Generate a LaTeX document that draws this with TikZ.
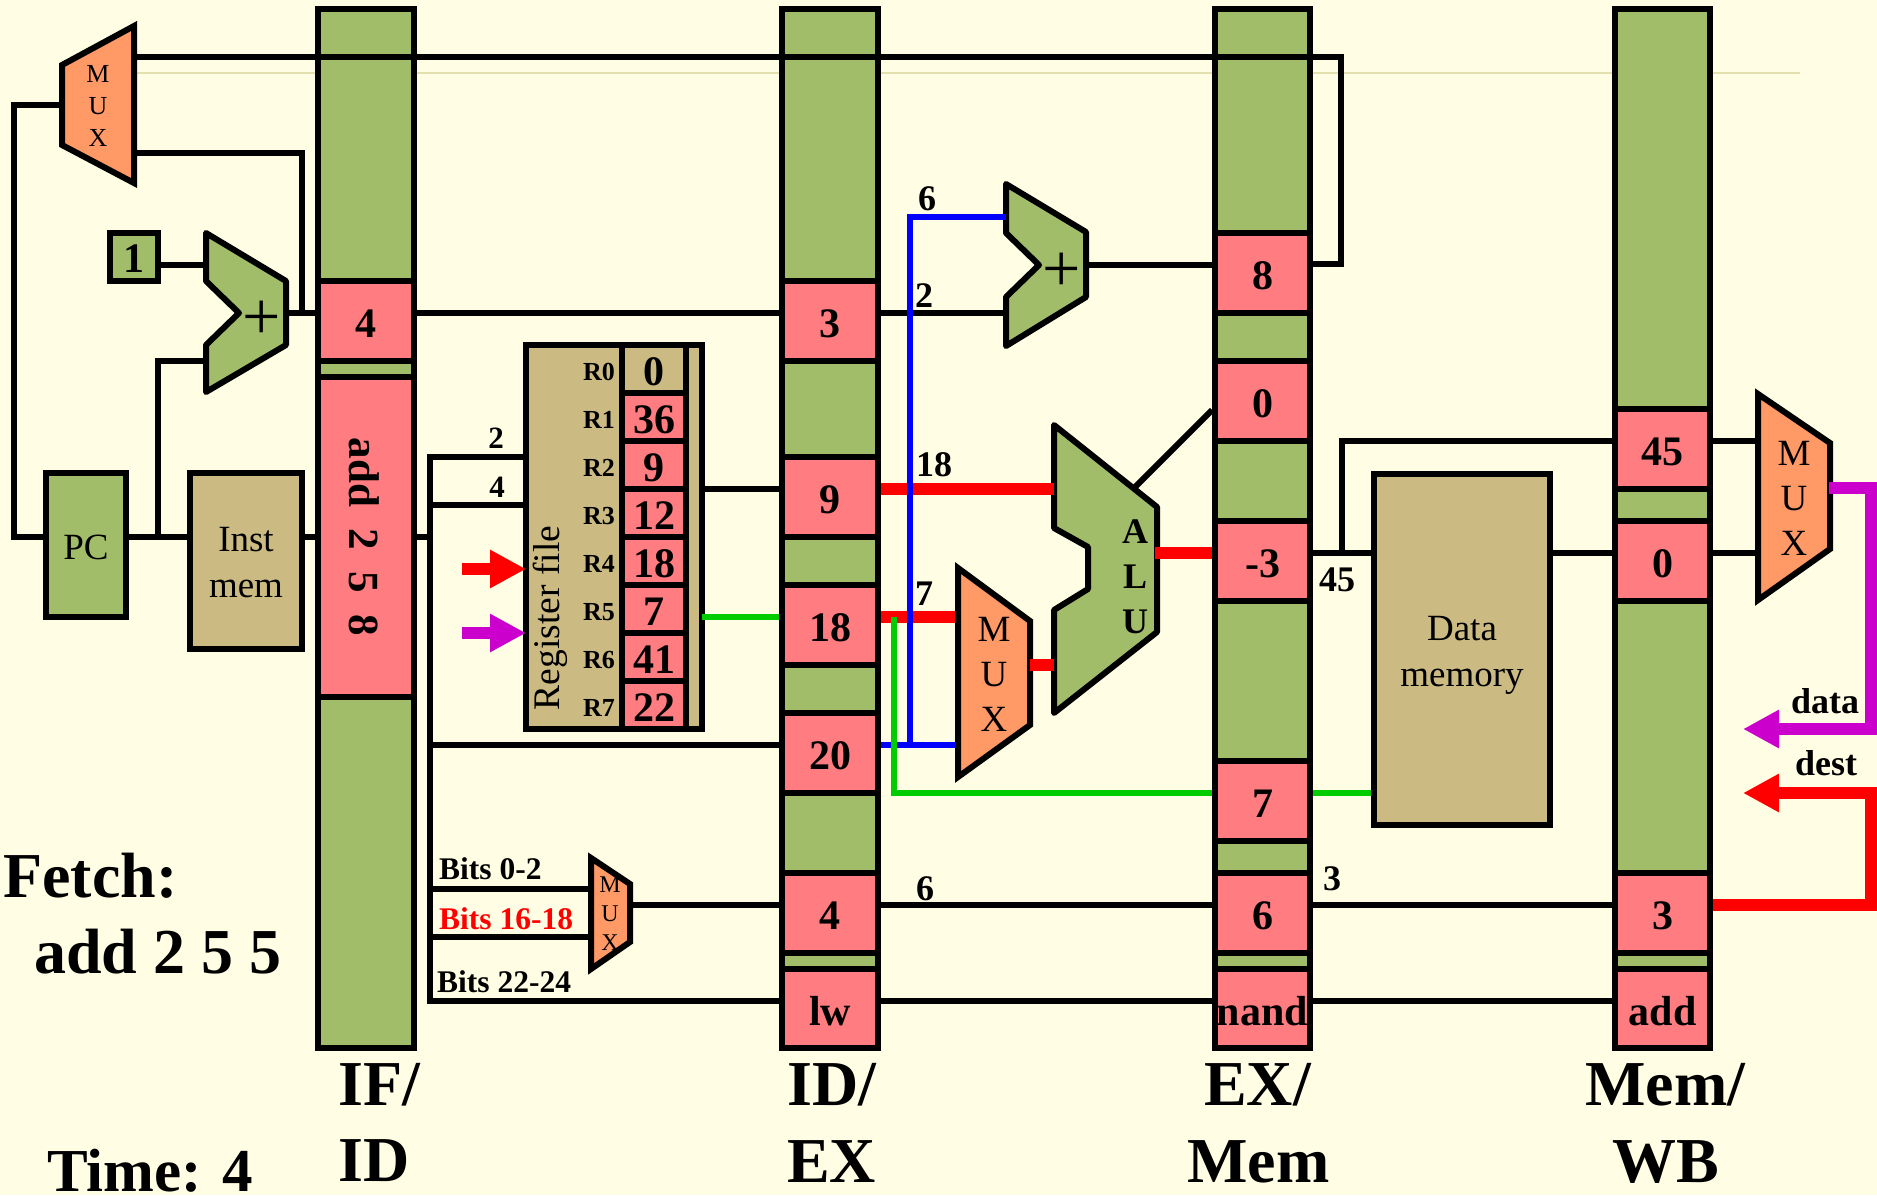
\documentclass[tikz,border=0pt]{standalone}
\usepackage{fontspec}
\setmainfont{Liberation Serif}
\usetikzlibrary{arrows.meta}

\begin{document}
\begin{tikzpicture}
    [x=1pt, y=-1pt,
    inner sep=0pt,
    wire/.style={line width=6pt},
    fatwire/.style={line width=12pt,color=#1},
    fatarrow/.style={line width=12pt,color=#1,-{Triangle[length=36pt,width=36pt]}},
    slimwire/.style={line width=5.5pt,color=#1},
    regbody/.style={draw,line width=6pt,fill=regreen,minimum width=#1,minimum height=1039pt},
    cell/.style={draw,line width=6pt,fill=cellpink,text height=33pt,text depth=0pt,font=\fontsize{42}{50}\selectfont\bfseries},
    box/.style={draw,line width=6pt,fill=#1},
    boxtxt/.style={align=center,font=\fontsize{37}{46}\selectfont},
    muxbody/.style={draw,line width=6pt,fill=muxorange},
    addbody/.style={draw,line width=6pt,fill=regreen,line join=round},
    muxtxt/.style={align=center,font=\fontsize{37}{45}\selectfont},
    wirelabel/.style={font=\fontsize{36}{40}\selectfont\bfseries},
    bitlabel/.style={anchor=west,font=\fontsize{31.5}{36}\selectfont\bfseries},
    title/.style={anchor=base west,font=\fontsize{64}{70}\selectfont\bfseries}]

    % Colors
    \definecolor{paper}{HTML}{FFFDE3};
    \definecolor{faint}{HTML}{E3DFAE};
    \definecolor{regreen}{HTML}{A2BD6A};
    \definecolor{cellpink}{HTML}{FF7C80};
    \definecolor{muxorange}{HTML}{FF9966};
    \definecolor{filetan}{HTML}{CBBB82};
    \definecolor{purplewire}{HTML}{CC00CC};
    \definecolor{greenwire}{HTML}{00CC00};

    % Page
    \path[use as bounding box,fill=paper] (0,0) rectangle (1877,1195);
    \draw[faint,line width=2pt] (134,73) -- (1800,73);

    % Wire heights
    \foreach \nm/\y in {rowtop/57, rowfbk/153, rowone/265, rowpc/313, rowrega/457, rowrds/489, rowregb/505,
        rowfetch/537, rowres/553, rowsel/617, rowoff/745, rowdst/793, rowbita/889, rowdest/905, rowbitb/937,
        rowop/1001, rowmem/441, rowzero/410, rowsum/264}
        \coordinate (\nm) at (0,\y);

    % Pipeline registers
    \node[regbody=96pt] (ifid) at (366,528.5) {};
    \node[regbody=96pt] (idex) at (830,528.5) {};
    \node[regbody=95pt] (exmem) at (1262.5,528.5) {};
    \node[regbody=95pt] (memwb) at (1662.5,528.5) {};

    \foreach \nm/\yc/\val in {idexpc/321/3, idexa/497/9, idexb/625/18, idexoff/753/20, idexdst/913/4}
        \node[cell,minimum width=96pt,minimum height=80pt] (\nm) at (830,\yc) {\val};
    \foreach \nm/\yc/\val in {exmemsum/272.5/8, exmemzero/401/0, exmemres/561/-3, exmemdata/801/7, exmemdst/913/6}
        \node[cell,minimum width=95pt,minimum height=80pt] (\nm) at (1262.5,\yc) {\val};
    \foreach \nm/\yc/\val in {memwbres/449/45, memwbdata/561/0, memwbdst/913/3}
        \node[cell,minimum width=95pt,minimum height=80pt] (\nm) at (1662.5,\yc) {\val};

    \node[cell,minimum width=96pt,minimum height=80pt] (ifidpc) at (366,321) {4};
    \node[cell,minimum width=96pt,minimum height=320pt] (ifidinst) at (366,537) {};
    \node[rotate=-90,font=\fontsize{43}{50}\selectfont\bfseries] (ifidtxt) at (364,537) {add\ \ 2\ \ 5\ \ 8};
    \node[cell,minimum width=96pt,minimum height=79pt] (idexop) at (830,1008.5) {lw};
    \node[cell,minimum width=95pt,minimum height=79pt] (exmemop) at (1262.5,1008.5) {nand};
    \node[cell,minimum width=95pt,minimum height=79pt] (memwbop) at (1662.5,1008.5) {add};

    % Boxes
    \node[box=regreen,minimum width=80pt,minimum height=144pt] (pc) at (86,545) {};
    \node[boxtxt] (pctxt) at (86,547) {PC};
    \node[box=filetan,minimum width=112pt,minimum height=176pt] (instmem) at (246,561) {};
    \node[boxtxt] (insttxt) at (246,563) {Inst\\mem};
    \node[box=filetan,minimum width=176pt,minimum height=351pt] (datamem) at (1462,649.5) {};
    \node[boxtxt] (datatxt) at (1462,655) {Data\\memory};
    \node[draw,line width=6pt,fill=regreen,minimum width=48pt,minimum height=48pt,text height=31pt,text depth=0pt,
        font=\fontsize{42}{50}\selectfont\bfseries] (one) at (134,257) {1};

    % Register file
    \node[box=filetan,minimum width=176pt,minimum height=384pt] (rfile) at (614,537) {};
    \node[cell,fill=filetan,minimum width=64pt,minimum height=48pt] (rval0) at (654,369) {0};
    \node[font=\fontsize{26}{30}\selectfont\bfseries] (rlab0) at (599,372) {R0};
    \foreach \i/\val in {1/36, 2/9, 3/12, 4/18, 5/7, 6/41, 7/22}{
        \node[cell,minimum width=64pt,minimum height=48pt] (rval\i) at (654,{369+48*\i}) {\val};
        \node[font=\fontsize{26}{30}\selectfont\bfseries] (rlab\i) at (599,{372+48*\i}) {R\i};
    }
    \node[rotate=90,font=\fontsize{37.5}{40}\selectfont] (rtxt) at (550,618) {Register file};

    % Muxes
    \draw[muxbody] (62,65) -- (134,26) -- (134,183) -- (62,145) -- cycle;
    \node[muxtxt,font=\fontsize{26}{32}\selectfont] (fbmux) at (98,106) {M\\U\\X};
    \draw[muxbody] (958,568) -- (1030,621) -- (1030,725) -- (958,777) -- cycle;
    \node[muxtxt] (exmux) at (994,674) {M\\U\\X};
    \draw[muxbody] (1758,394) -- (1830,443) -- (1830,549) -- (1758,600) -- cycle;
    \node[muxtxt] (wbmux) at (1794,498.5) {M\\U\\X};
    \draw[muxbody] (591,858) -- (630,884) -- (630,942) -- (591,969) -- cycle;
    \node[muxtxt,font=\fontsize{24}{29}\selectfont] (dstmux) at (610,914) {M\\U\\X};

    % Adders and ALU
    \draw[addbody] (206,233) -- (286,281) -- (286,345) -- (206,392) -- (206,345) -- (239,313) -- (206,281) -- cycle;
    \node[font=\fontsize{68}{70}\selectfont] (pcplus) at (262,320) {+};
    \draw[addbody] (1006,184) -- (1086,232) -- (1086,297) -- (1006,346) -- (1006,297) -- (1039,265) -- (1006,233) -- cycle;
    \node[font=\fontsize{68}{70}\selectfont] (brplus) at (1062,272) {+};
    \draw[addbody] (1054,425) -- (1157,507) -- (1157,632) -- (1054,713) -- (1054,610) -- (1088,589) -- (1088,547) -- (1054,528) -- cycle;
    \node[muxtxt,font=\fontsize{36}{45}\selectfont\bfseries] (alu) at (1135,577) {A\\L\\U};

    % Wire ends
    \coordinate (fbout) at (134,57);
    \coordinate (fbin) at (134,153);
    \coordinate (fbsel) at (62,105);
    \coordinate (fbleft) at (14,105);
    \coordinate (fbright) at (1341,57);
    \coordinate (fbturn) at (302,153);
    \coordinate (pcjoin) at (302,313);
    \coordinate (pctap) at (158,537);
    \coordinate (pcup) at (158,361);
    \coordinate (pcadd) at (206,361);
    \coordinate (oneadd) at (206,265);
    \coordinate (pcout) at (289,313);
    \coordinate (bus) at (430,457);
    \coordinate (busend) at (430,1001);
    \coordinate (memtap) at (1342,553);
    \coordinate (aluouta) at (1134,488);

    % Black wires
    \draw[wire] (fbout) -- (fbright) -- (fbright |- rowsum) -- (exmemsum.east |- rowsum);
    \draw[wire] (fbin) -- (fbturn) -- (pcjoin);
    \draw[wire] (pcout) -- (ifidpc.west |- rowpc);
    \draw[wire] (fbsel) -- (fbleft) -- (fbleft |- rowfetch) -- (pc.west |- rowfetch);
    \draw[wire] (pc.east |- rowfetch) -- (instmem.west |- rowfetch);
    \draw[wire] (pctap) -- (pcup) -- (pcadd);
    \draw[wire] (one.east |- rowone) -- (oneadd);
    \draw[wire] (instmem.east |- rowfetch) -- (ifidinst.west |- rowfetch);
    \draw[wire] (ifidpc.east |- rowpc) -- (idexpc.west |- rowpc);
    \draw[wire] (idexpc.east |- rowpc) -- (1006,313);
    \draw[wire] (1086,265) -- (exmemsum.west |- rowone);
    \draw[wire] (ifidinst.east |- rowfetch) -- (bus |- rowfetch);
    \draw[wire] (rfile.west |- rowrega) -- (bus) -- (busend) -- (idexop.west |- rowop);
    \draw[wire] (bus |- rowregb) -- (rfile.west |- rowregb);
    \draw[wire] (bus |- rowoff) -- (idexoff.west |- rowoff);
    \draw[wire] (bus |- rowbita) -- (591,889);
    \draw[wire] (bus |- rowbitb) -- (591,937);
    \draw[wire] (630,905) -- (idexdst.west |- rowdest);
    \draw[wire] (rfile.east |- rowrds) -- (idexa.west |- rowrds);
    \draw[wire] (idexdst.east |- rowdest) -- (exmemdst.west |- rowdest);
    \draw[wire] (exmemdst.east |- rowdest) -- (memwbdst.west |- rowdest);
    \draw[wire] (idexop.east |- rowop) -- (exmemop.west |- rowop);
    \draw[wire] (exmemop.east |- rowop) -- (memwbop.west |- rowop);
    \draw[wire] (aluouta) -- (exmemzero.west |- rowzero);
    \draw[wire] (exmemres.east |- rowres) -- (datamem.west |- rowres);
    \draw[wire] (memtap) -- (memtap |- rowmem) -- (memwbres.west |- rowmem);
    \draw[wire] (datamem.east |- rowres) -- (memwbdata.west |- rowres);
    \draw[wire] (memwbres.east |- rowmem) -- (1758,441);
    \draw[wire] (memwbdata.east |- rowres) -- (1758,553);

    % Red wires
    \draw[fatwire=red] (idexa.east |- rowrds) -- (1054,489);
    \draw[fatwire=red] (idexb.east |- rowsel) -- (955,617);
    \draw[fatwire=red] (1030,665) -- (1054,665);
    \draw[fatwire=red] (1155,553) -- (exmemres.west |- rowres);

    % Blue wires
    \draw[slimwire=blue] (idexoff.east |- rowoff) -- (956,745);
    \draw[slimwire=blue] (910,745) -- (910,217) -- (1006,217);

    % Green wires
    \draw[slimwire=greenwire] (702,617) -- (idexb.west |- rowsel);
    \draw[slimwire=greenwire] (894,617) -- (894,793) -- (exmemdata.west |- rowdst);
    \draw[slimwire=greenwire] (exmemdata.east |- rowdst) -- (datamem.west |- rowdst);

    % Write back
    \coordinate (rfwrite) at (526,569);
    \coordinate (rfdest) at (526,633);
    \draw[fatarrow=red] (462,569) -- (rfwrite);
    \draw[fatarrow=purplewire] (462,633) -- (rfdest);
    \draw[fatarrow=purplewire] (1829,488) -- (1871,488) -- (1871,729) -- (1743,729);
    \draw[fatarrow=red] (memwbdst.east |- rowdest) -- (1871,905) -- (1871,793) -- (1743,793);

    % Labels on wires
    \foreach \nm/\px/\py/\val in {lbsix/927/199/6, lbtwo/924/296/2, lbrs/934/465/18, lbrt/924/594/7, lbdst/925/889/6,
        lbres/1337/580/45, lbdest/1332/879/3, lbdata/1825/701/data, lbwb/1826/763/dest}
        \node[wirelabel] (\nm) at (\px,\py) {\val};
    \node[wirelabel,font=\fontsize{31}{36}\selectfont\bfseries] (lbrega) at (496,438) {2};
    \node[wirelabel,font=\fontsize{31}{36}\selectfont\bfseries] (lbregb) at (497,487) {4};
    \node[bitlabel] (bita) at (439,869) {Bits 0-2};
    \node[bitlabel,red] (bitb) at (439,919) {Bits 16-18};
    \node[bitlabel] (bitc) at (437,982) {Bits 22-24};

    % Titles
    \node[title] (fetch) at (3,897) {Fetch:};
    \node[title] (instr) at (34,973) {add 2 5 5};
    \node[title,font=\fontsize{61}{66}\selectfont\bfseries] (time) at (47,1191) {Time: 4};
    \node[title] (ifa) at (338,1105) {IF/};
    \node[title] (ifb) at (338,1181) {ID};
    \node[title] (ida) at (787,1105) {ID/};
    \node[title] (idb) at (787,1182) {EX};
    \node[title] (exa) at (1204,1105) {EX/};
    \node[title] (exb) at (1187,1182) {Mem};
    \node[title] (mema) at (1585,1105) {Mem/};
    \node[title] (memb) at (1612,1182) {WB};
\end{tikzpicture}
\end{document}
